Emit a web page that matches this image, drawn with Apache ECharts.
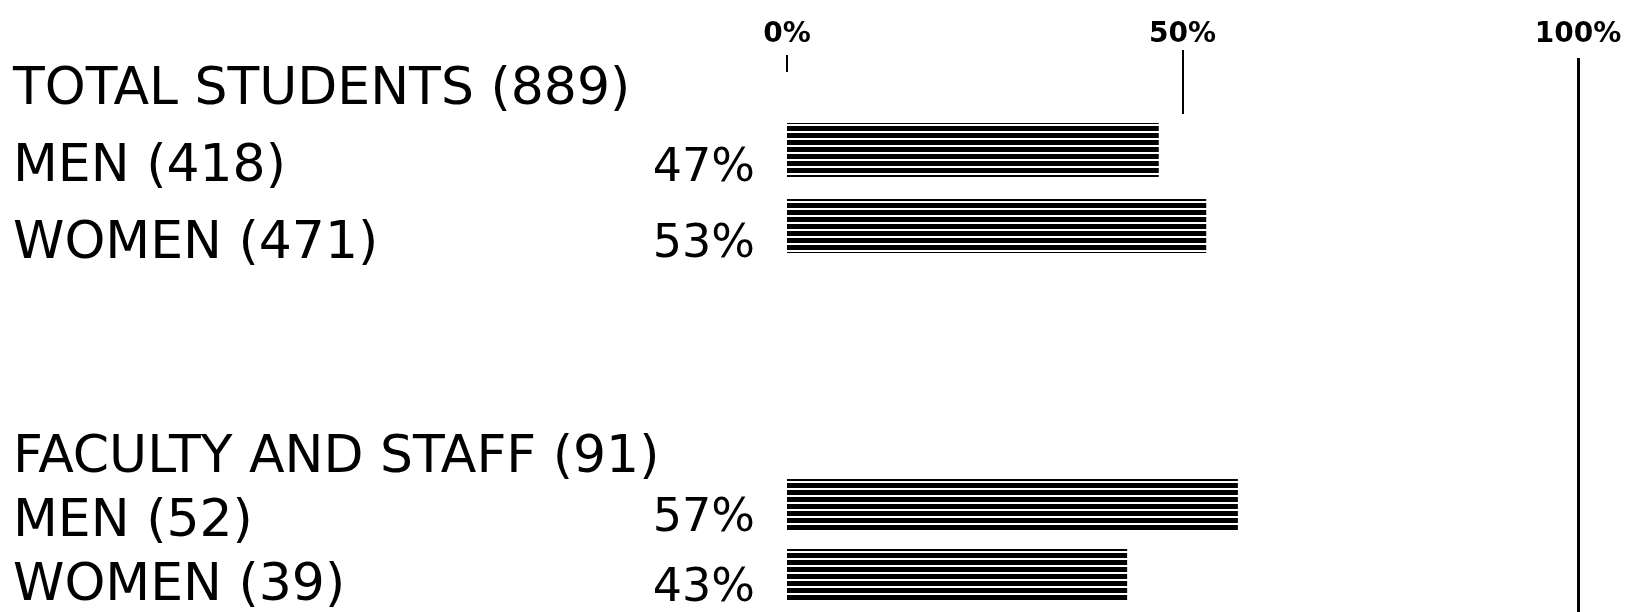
<!DOCTYPE html>
<html>
<head>
<meta charset="utf-8">
<script src="https://cdn.jsdelivr.net/npm/echarts@6/dist/echarts.min.js"></script>
<style>
  html, body { margin: 0; padding: 0; background: #ffffff; }
  #chart { width: 1650px; height: 612px; }
</style>
</head>
<body>
<div id="chart"></div>
<script>
// ---- data ----
const studentCats = ['TOTAL STUDENTS (889)', 'MEN (418)', 'WOMEN (471)'];
const studentPct = ['-', 47, 53];
const facultyCats = ['FACULTY AND STAFF (91)', 'MEN (52)', 'WOMEN (39)'];
const facultyPct = ['-', 57, 43];
const tickValues = [0, 50, 100];

// ---- striped fill ----
function stripes() {
  const c = document.createElement('canvas');
  c.width = 8; c.height = 7;
  const g = c.getContext('2d');
  g.fillStyle = '#ffffff'; g.fillRect(0, 0, 8, 7);
  g.fillStyle = '#000000'; g.fillRect(0, 0, 8, 5);
  return c;
}
const pattern = { image: stripes(), repeat: 'repeat' };

const FONT = 'DejaVu Sans';
const L = 787, R = 72;

function labelAxis(gridIndex, cats) {
  return {
    type: 'category', gridIndex, data: cats, inverse: true, boundaryGap: false,
    axisLine: { show: false }, axisTick: { show: false },
    axisLabel: {
      interval: 0, hideOverlap: false,
      align: 'left', margin: L - 13, color: '#000', fontFamily: FONT,
      fontSize: 52
    }
  };
}
function barAxis(gridIndex, cats) {
  return {
    type: 'category', gridIndex, data: cats, inverse: true, show: false
  };
}
function barSeries(idx, values, w, dy) {
  return {
    type: 'bar', xAxisIndex: idx, yAxisIndex: idx, data: values, barWidth: w,
    itemStyle: { color: pattern },
    label: {
      show: true, position: 'left', distance: 32, formatter: '{c}%',
      color: '#000', fontFamily: FONT, fontSize: 46, offset: [0, dy]
    },
    silent: true
  };
}
function plainX(gridIndex) {
  return { type: 'value', gridIndex, min: 0, max: 100, show: false };
}
function tickAxis(gridIndex, values, len, width, showLabels) {
  return {
    type: 'value', gridIndex, min: 0, max: 100, position: 'top',
    axisLine: { show: false }, splitLine: { show: false },
    axisTick: { show: true, inside: true, length: len, customValues: values,
      lineStyle: { color: '#000', width } },
    axisLabel: { show: showLabels, customValues: tickValues, formatter: '{value}%',
      margin: 9, color: '#000', fontFamily: FONT, fontWeight: 'bold', fontSize: 28 }
  };
}

const option = {
  backgroundColor: '#ffffff',
  animation: false,
  grid: [
    { left: L, right: R, top: 36, height: 228 },    // 0 student bars
    { left: L, right: R, top: 400, height: 210 },   // 1 faculty bars
    { left: L, right: R, top: 90, height: 154 },    // 2 student text rows
    { left: L, right: R, top: 458, height: 131 },   // 3 faculty text rows
    { left: L, right: R, top: 58, bottom: 0 },      // 4 100% rule + labels
    { left: L, right: R, top: 55, height: 17 },     // 5 0% tick
    { left: L, right: R, top: 50, height: 64 }      // 6 50% tick
  ],
  xAxis: [
    plainX(0), plainX(1), plainX(2), plainX(3),
    tickAxis(4, [tickValues[2]], 560, 3, true),
    tickAxis(5, [tickValues[0]], 17, 2, false),
    tickAxis(6, [tickValues[1]], 64, 2, false)
  ],
  yAxis: [
    barAxis(0, studentCats),
    barAxis(1, facultyCats),
    labelAxis(2, studentCats),
    labelAxis(3, facultyCats),
    { type: 'category', gridIndex: 4, show: false },
    { type: 'category', gridIndex: 5, show: false },
    { type: 'category', gridIndex: 6, show: false }
  ],
  series: [
    barSeries(0, studentPct, 54, 19),
    barSeries(1, facultyPct, 52, 14)
  ]
};
const chart = echarts.init(document.getElementById('chart'), null, { renderer: 'canvas' });
chart.setOption(option);
</script>
</body>
</html>
